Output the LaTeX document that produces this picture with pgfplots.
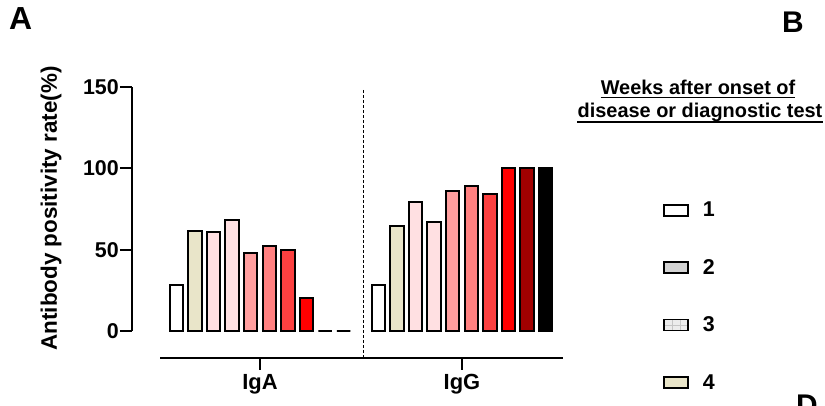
\documentclass[border=0pt]{standalone}
\usepackage{fontspec}
\setmainfont{Liberation Sans}
\usepackage{pgfplots}
\pgfplotsset{compat=1.18}
\definecolor{cbeige}{HTML}{E9E5C9}
\definecolor{cpinkA}{HTML}{FFE0E2}
\definecolor{cpinkB}{HTML}{FF9E9E}
\definecolor{cpinkC}{HTML}{FF8080}
\definecolor{cred1}{HTML}{FC4040}
\definecolor{cred2}{HTML}{FF0000}
\definecolor{cdark}{HTML}{A00000}
\definecolor{lgray}{HTML}{D3D3D3}
\definecolor{lgray2}{HTML}{ECECEC}
\begin{document}
\begin{tikzpicture}
\useasboundingbox (0bp,0bp) rectangle (825bp,406bp);
\pgfplotsset{barsty/.style={ybar, bar width=13.5bp, draw=black, line width=2bp, forget plot}}
\begin{axis}[
  scale only axis, width=431bp, height=244bp,
  at={(132bp,75bp)}, anchor=south west,
  xmin=132, xmax=563, ymin=0, ymax=150,
  axis x line=none, axis y line*=left,
  axis line style={line width=2.2bp,-},
  ytick={0,50,100,150},
  tick align=outside, major tick length=12bp,
  every tick/.style={line width=2.2bp,black},
  /pgf/number format/assume math mode=true,
  yticklabel style={font=\bfseries\fontsize{21.5}{24}\selectfont, inner sep=0pt, xshift=-1bp},
  clip=false,
  legend style={draw=none, fill=none, at={(axis description cs:1.232,0.5287)}, anchor=north west,
    inner sep=0pt, row sep=41bp, font=\bfseries\fontsize{21.5}{24}\selectfont,
    nodes={inner sep=0pt}, /tikz/every odd column/.append style={column sep=14bp}},
  legend cell align=left,
]
\addplot[barsty, bar shift=-83.7bp, fill=white]  coordinates {(260,28) (462,28)};
\addplot[barsty, bar shift=-65.1bp, fill=cbeige] coordinates {(260,61.5) (462,64.5)};
\addplot[barsty, bar shift=-46.5bp, fill=cpinkA] coordinates {(260,61) (462,79.5)};
\addplot[barsty, bar shift=-27.9bp, fill=cpinkA] coordinates {(260,68) (462,67)};
\addplot[barsty, bar shift=-9.3bp,  fill=cpinkB] coordinates {(260,48) (462,86)};
\addplot[barsty, bar shift=9.3bp,   fill=cpinkC] coordinates {(260,52) (462,89)};
\addplot[barsty, bar shift=27.9bp,  fill=cred1]  coordinates {(260,50) (462,84)};
\addplot[barsty, bar shift=46.5bp,  fill=cred2]  coordinates {(260,20) (462,100)};
\addplot[barsty, bar shift=65.1bp,  fill=cdark]  coordinates {(260,0) (462,100)};
\addplot[barsty, bar shift=83.7bp,  fill=black]  coordinates {(260,0) (462,100)};
\addlegendimage{legend image code/.code={\draw[line width=1.6bp, fill=white] (0bp,-5.5bp) rectangle (24bp,5.5bp);}}
\addlegendentry{1}
\addlegendimage{legend image code/.code={\draw[line width=1.6bp, fill=lgray] (0bp,-5.5bp) rectangle (24bp,5.5bp);}}
\addlegendentry{2}
\addlegendimage{legend image code/.code={\fill[lgray2] (0bp,-5.5bp) rectangle (24bp,5.5bp);
  \draw[gray!45, line width=0.4bp] (8bp,-5.5bp)--(8bp,5.5bp) (16bp,-5.5bp)--(16bp,5.5bp) (0bp,0bp)--(24bp,0bp);
  \draw[line width=1.6bp] (0bp,-5.5bp) rectangle (24bp,5.5bp);}}
\addlegendentry{3}
\addlegendimage{legend image code/.code={\draw[line width=1.6bp, fill=cbeige] (0bp,-5.5bp) rectangle (24bp,5.5bp);}}
\addlegendentry{4}
\end{axis}
\begin{axis}[
  scale only axis, width=403bp, height=20bp,
  at={(160bp,48bp)}, anchor=south west,
  xmin=160, xmax=563, ymin=0, ymax=1,
  axis x line*=bottom, axis y line=none,
  axis line style={line width=2.2bp,-},
  xtick={260,462}, xticklabels={IgA,IgG},
  tick align=outside, major tick length=12bp,
  every tick/.style={line width=2.2bp,black},
  xticklabel style={font=\bfseries\fontsize{22}{24}\selectfont, inner sep=0pt, yshift=-4bp},
]
\addplot[draw=none] coordinates {(160,0) (563,0)};
\end{axis}
\draw[line width=1bp, dash pattern=on 3bp off 2bp] (363bp,316bp) -- (363bp,48bp);
\node[rotate=90, font=\bfseries\fontsize{22.5}{24}\selectfont, inner sep=0pt] at (51bp,197.5bp) {Antibody positivity rate(\%)};
\node[anchor=base, inner sep=0pt, font=\bfseries\fontsize{20}{24}\selectfont] (t1) at (698bp,311bp) {Weeks after onset of};
\node[anchor=base, inner sep=0pt, font=\bfseries\fontsize{20}{24}\selectfont] (t2) at (700bp,288bp) {disease or diagnostic test};
\draw[line width=1.3bp] ([yshift=-2.5bp]t1.base west) -- ([yshift=-2.5bp]t1.base east);
\draw[line width=1.3bp] ([yshift=-4bp]t2.base west) -- ([yshift=-4bp]t2.base east);
\node[anchor=base west, inner sep=0pt, font=\bfseries\fontsize{32}{36}\selectfont] at (9bp,376bp) {A};
\node[anchor=base west, inner sep=0pt, font=\bfseries\fontsize{30}{34}\selectfont] at (782bp,373bp) {B};
\node[anchor=base west, inner sep=0pt, font=\bfseries\fontsize{30}{34}\selectfont] at (796bp,-9bp) {D};
\end{tikzpicture}
\end{document}
